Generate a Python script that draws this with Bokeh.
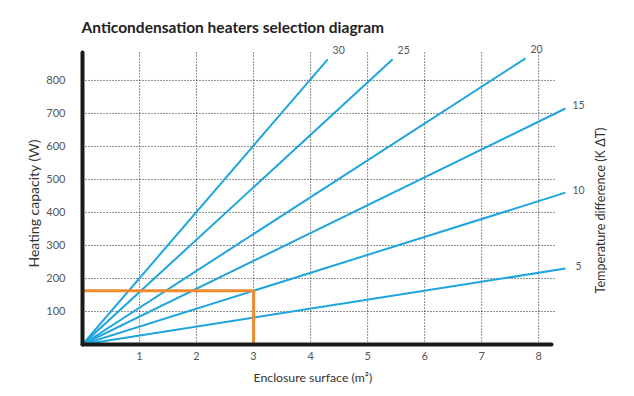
import math
from bokeh.plotting import figure
from bokeh.models import LinearAxis, FixedTicker, Range1d, ColumnDataSource, Title
from bokeh.core.properties import value
from bokeh.embed import file_html
from bokeh.resources import INLINE

# ---- data ----
delta_t = [5, 10, 15, 20, 25, 30]
end_surface = [8.47, 8.47, 8.47, 7.77, 5.44, 4.30]
end_power = [230, 460, 715, 867, 864, 864]

x_ticks = [1, 2, 3, 4, 5, 6, 7, 8]
y_ticks = [100, 200, 300, 400, 500, 600, 700, 800]

example_surface = 3
example_power = 163

grid_x_end = 8.3
grid_y_end = 885

FONT = "Lato"
BLUE = "#1ea5dc"
ORANGE = "#ef8a2e"
GREY = "#555555"
LABEL = "#333333"

p = figure(width=618, height=392, output_backend="svg", toolbar_location=None,
           x_range=Range1d(0, 9.4), y_range=Range1d(0, 921),
           x_axis_type=None, y_axis_type=None,
           min_border_left=82, min_border_right=0, min_border_top=40, min_border_bottom=48,
           outline_line_color=None)
p.grid.visible = False

p.title.text = "Anticondensation heaters selection diagram"
p.title.text_font = FONT
p.title.text_font_size = "15.5px"
p.title.text_font_style = "bold"
p.title.text_color = "#222222"
p.title.standoff = 9
p.title.offset = -1

# grid (dotted)
p.segment(x0=[0] * len(y_ticks), y0=y_ticks, x1=[grid_x_end] * len(y_ticks), y1=y_ticks,
          line_color="#222222", line_width=1, line_dash="1 2")
p.segment(x0=x_ticks, y0=[0] * len(x_ticks), x1=x_ticks, y1=[grid_y_end] * len(x_ticks),
          line_color="#222222", line_width=1, line_dash="1 2")

# axes
xaxis = LinearAxis(ticker=FixedTicker(ticks=x_ticks), bounds=(-0.03, 8.22))
yaxis = LinearAxis(ticker=FixedTicker(ticks=y_ticks), bounds=(0, grid_y_end))
for ax in (xaxis, yaxis):
    ax.axis_line_width = 4
    ax.axis_line_color = "#1a1a1a"
    ax.axis_line_cap = "round"
    ax.major_tick_line_color = None
    ax.minor_tick_line_color = None
    ax.major_label_text_font = FONT
    ax.major_label_text_font_size = "11px"
    ax.major_label_text_color = GREY
xaxis.major_label_standoff = 1
yaxis.major_label_standoff = 11
p.add_layout(xaxis, "below")
p.add_layout(yaxis, "left")

# axis titles
p.add_layout(Title(text="Enclosure surface (m²)", align="left", offset=171, standoff=10,
                   text_font=FONT, text_font_size="12.3px", text_font_style="normal",
                   text_color=LABEL), "below")
p.add_layout(Title(text="Heating capacity (W)", align="left", offset=77, standoff=3,
                   text_font=FONT, text_font_size="14px", text_font_style="normal",
                   text_color=LABEL), "left")
p.text(x=[9.09], y=[406], text=["Temperature difference (K \u0394T)"], angle=math.pi / 2,
       text_align="center", text_baseline="middle",
       text_font=value(FONT), text_font_size="12.6px", text_color=LABEL)

# heater lines
src = ColumnDataSource(dict(
    x0=[0] * len(delta_t), y0=[0] * len(delta_t),
    x1=end_surface, y1=end_power,
    lbl=[str(d) for d in delta_t],
    xo=[13 if y < 850 else 11 for y in end_power],
    yo=[-3 if y < 850 else -9 for y in end_power],
))
p.segment(x0="x0", y0="y0", x1="x1", y1="y1", source=src, line_color=BLUE, line_width=2)
p.text(x="x1", y="y1", text="lbl", source=src, x_offset="xo", y_offset="yo",
       text_font=value(FONT), text_font_size="10.5px", text_color=GREY,
       text_align="center", text_baseline="middle")

# example selection
p.line(x=[0, example_surface, example_surface], y=[example_power, example_power, 0],
       line_color=ORANGE, line_width=3)

open("out.html", "w").write(file_html(p, INLINE))
